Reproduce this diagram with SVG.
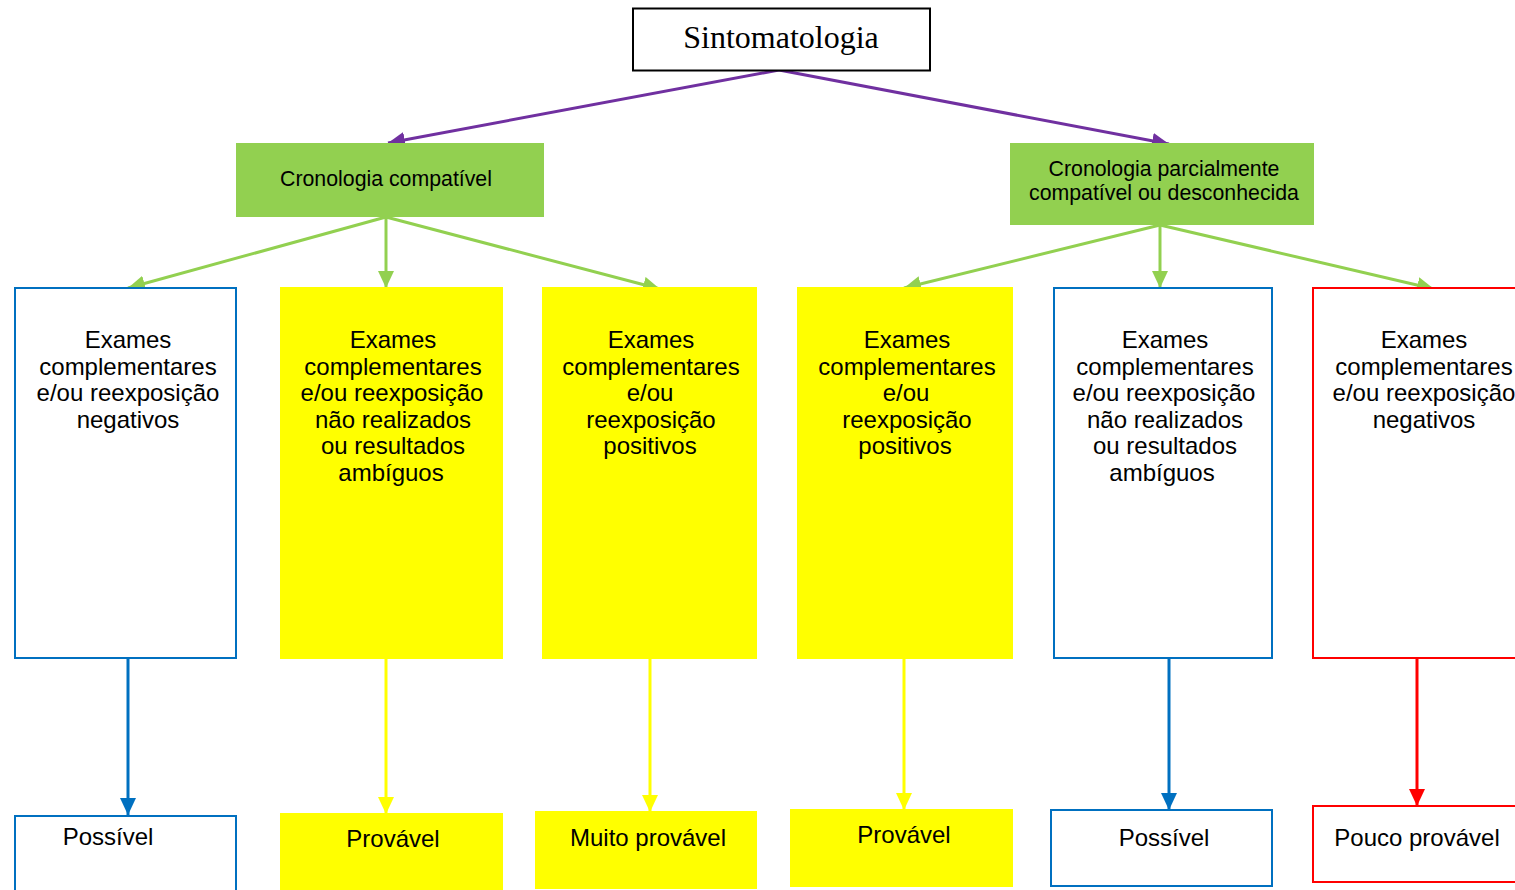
<svg xmlns="http://www.w3.org/2000/svg" width="1515" height="890" viewBox="0 0 1515 890">
<defs>
<style>
.t{font-family:"Liberation Sans",Arial,sans-serif;font-size:24px;fill:#000;text-anchor:middle}
.g{font-family:"Liberation Sans",Arial,sans-serif;font-size:21.3px;fill:#000;text-anchor:middle}
.c{fill:none;stroke-width:3}
.blue{fill:#fff;stroke:#0070C0;stroke-width:2}
.red{fill:#fff;stroke:#FF0000;stroke-width:2}
.yel{fill:#FFFF00;stroke:none}
.grn{fill:#92D050;stroke:none}
</style>
<marker id="mp" markerUnits="userSpaceOnUse" markerWidth="18" markerHeight="16" refX="17" refY="8" orient="auto"><path d="M0,0 L17,8 L0,16 Z" fill="#7030A0"/></marker>
<marker id="mg" markerUnits="userSpaceOnUse" markerWidth="18" markerHeight="16" refX="17" refY="8" orient="auto"><path d="M0,0 L17,8 L0,16 Z" fill="#92D050"/></marker>
<marker id="mb" markerUnits="userSpaceOnUse" markerWidth="18" markerHeight="16" refX="17" refY="8" orient="auto"><path d="M0,0 L17,8 L0,16 Z" fill="#0070C0"/></marker>
<marker id="my" markerUnits="userSpaceOnUse" markerWidth="18" markerHeight="16" refX="17" refY="8" orient="auto"><path d="M0,0 L17,8 L0,16 Z" fill="#FFFF00"/></marker>
<marker id="mr" markerUnits="userSpaceOnUse" markerWidth="18" markerHeight="16" refX="17" refY="8" orient="auto"><path d="M0,0 L17,8 L0,16 Z" fill="#FF0000"/></marker>
</defs>
<rect width="1515" height="890" fill="#fff"/>

<g id="connectors">
<line class="c" stroke="#7030A0" x1="779" y1="70" x2="388" y2="143" marker-end="url(#mp)"/>
<line class="c" stroke="#7030A0" x1="779" y1="70" x2="1169" y2="144" marker-end="url(#mp)"/>
<line class="c" stroke="#92D050" x1="386" y1="217" x2="128" y2="288" marker-end="url(#mg)"/>
<line class="c" stroke="#92D050" x1="386" y1="217" x2="386" y2="288" marker-end="url(#mg)"/>
<line class="c" stroke="#92D050" x1="386" y1="217" x2="660" y2="289" marker-end="url(#mg)"/>
<line class="c" stroke="#92D050" x1="1160" y1="225" x2="904" y2="288" marker-end="url(#mg)"/>
<line class="c" stroke="#92D050" x1="1160" y1="225" x2="1160" y2="288" marker-end="url(#mg)"/>
<line class="c" stroke="#92D050" x1="1160" y1="225" x2="1434" y2="289" marker-end="url(#mg)"/>
<line class="c" stroke="#0070C0" x1="128" y1="658" x2="128" y2="815" marker-end="url(#mb)"/>
<line class="c" stroke="#FFFF00" x1="386" y1="658" x2="386" y2="814" marker-end="url(#my)"/>
<line class="c" stroke="#FFFF00" x1="650" y1="658" x2="650" y2="812" marker-end="url(#my)"/>
<line class="c" stroke="#FFFF00" x1="904" y1="658" x2="904" y2="810" marker-end="url(#my)"/>
<line class="c" stroke="#0070C0" x1="1169" y1="658" x2="1169" y2="810" marker-end="url(#mb)"/>
<line class="c" stroke="#FF0000" x1="1417" y1="658" x2="1417" y2="806" marker-end="url(#mr)"/>
</g>

<g id="sintomatologia">
<rect x="633" y="8.5" width="297" height="62" fill="#fff" stroke="#000" stroke-width="2"/>
<text x="781" y="48" font-family="'Liberation Serif','Times New Roman',serif" font-size="32" text-anchor="middle">Sintomatologia</text>
</g>

<g id="cron-compativel">
<rect class="grn" x="236" y="143" width="308" height="74"/>
<text class="g" x="386" y="186">Cronologia compatível</text>
</g>

<g id="cron-parcial">
<rect class="grn" x="1010" y="143" width="304" height="82"/>
<text class="g" x="1164" y="176">Cronologia parcialmente</text>
<text class="g" x="1164" y="200">compatível ou desconhecida</text>
</g>

<g id="exame1">
<rect class="blue" x="15" y="288" width="221" height="370"/>
<text class="t" x="128" y="348">Exames</text>
<text class="t" x="128" y="375">complementares</text>
<text class="t" x="128" y="401">e/ou reexposição</text>
<text class="t" x="128" y="428">negativos</text>
</g>

<g id="exame2">
<rect class="yel" x="280" y="287" width="223" height="372"/>
<text class="t" x="393" y="348">Exames</text>
<text class="t" x="393" y="375">complementares</text>
<text class="t" x="392" y="401">e/ou reexposição</text>
<text class="t" x="393" y="428">não realizados</text>
<text class="t" x="393" y="454">ou resultados</text>
<text class="t" x="391" y="481">ambíguos</text>
</g>

<g id="exame3">
<rect class="yel" x="542" y="287" width="215" height="372"/>
<text class="t" x="651" y="348">Exames</text>
<text class="t" x="651" y="375">complementares</text>
<text class="t" x="650" y="401">e/ou</text>
<text class="t" x="651" y="428">reexposição</text>
<text class="t" x="650" y="454">positivos</text>
</g>

<g id="exame4">
<rect class="yel" x="797" y="287" width="216" height="372"/>
<text class="t" x="907" y="348">Exames</text>
<text class="t" x="907" y="375">complementares</text>
<text class="t" x="906" y="401">e/ou</text>
<text class="t" x="907" y="428">reexposição</text>
<text class="t" x="905" y="454">positivos</text>
</g>

<g id="exame5">
<rect class="blue" x="1054" y="288" width="218" height="370"/>
<text class="t" x="1165" y="348">Exames</text>
<text class="t" x="1165" y="375">complementares</text>
<text class="t" x="1164" y="401">e/ou reexposição</text>
<text class="t" x="1165" y="428">não realizados</text>
<text class="t" x="1165" y="454">ou resultados</text>
<text class="t" x="1162" y="481">ambíguos</text>
</g>

<g id="exame6">
<rect class="red" x="1313" y="288" width="220" height="370"/>
<text class="t" x="1424" y="348">Exames</text>
<text class="t" x="1424" y="375">complementares</text>
<text class="t" x="1424" y="401">e/ou reexposição</text>
<text class="t" x="1424" y="428">negativos</text>
</g>

<g id="res1">
<rect class="blue" x="15" y="816" width="221" height="80"/>
<text class="t" x="108" y="845">Possível</text>
</g>
<g id="res2">
<rect class="yel" x="280" y="813" width="223" height="77"/>
<text class="t" x="393" y="847">Provável</text>
</g>
<g id="res3">
<rect class="yel" x="535" y="811" width="222" height="78"/>
<text class="t" x="648" y="846">Muito provável</text>
</g>
<g id="res4">
<rect class="yel" x="790" y="809" width="223" height="78"/>
<text class="t" x="904" y="843">Provável</text>
</g>
<g id="res5">
<rect class="blue" x="1051" y="810" width="221" height="76"/>
<text class="t" x="1164" y="846">Possível</text>
</g>
<g id="res6">
<rect class="red" x="1313" y="806" width="220" height="76"/>
<text class="t" x="1417" y="846">Pouco provável</text>
</g>
</svg>
